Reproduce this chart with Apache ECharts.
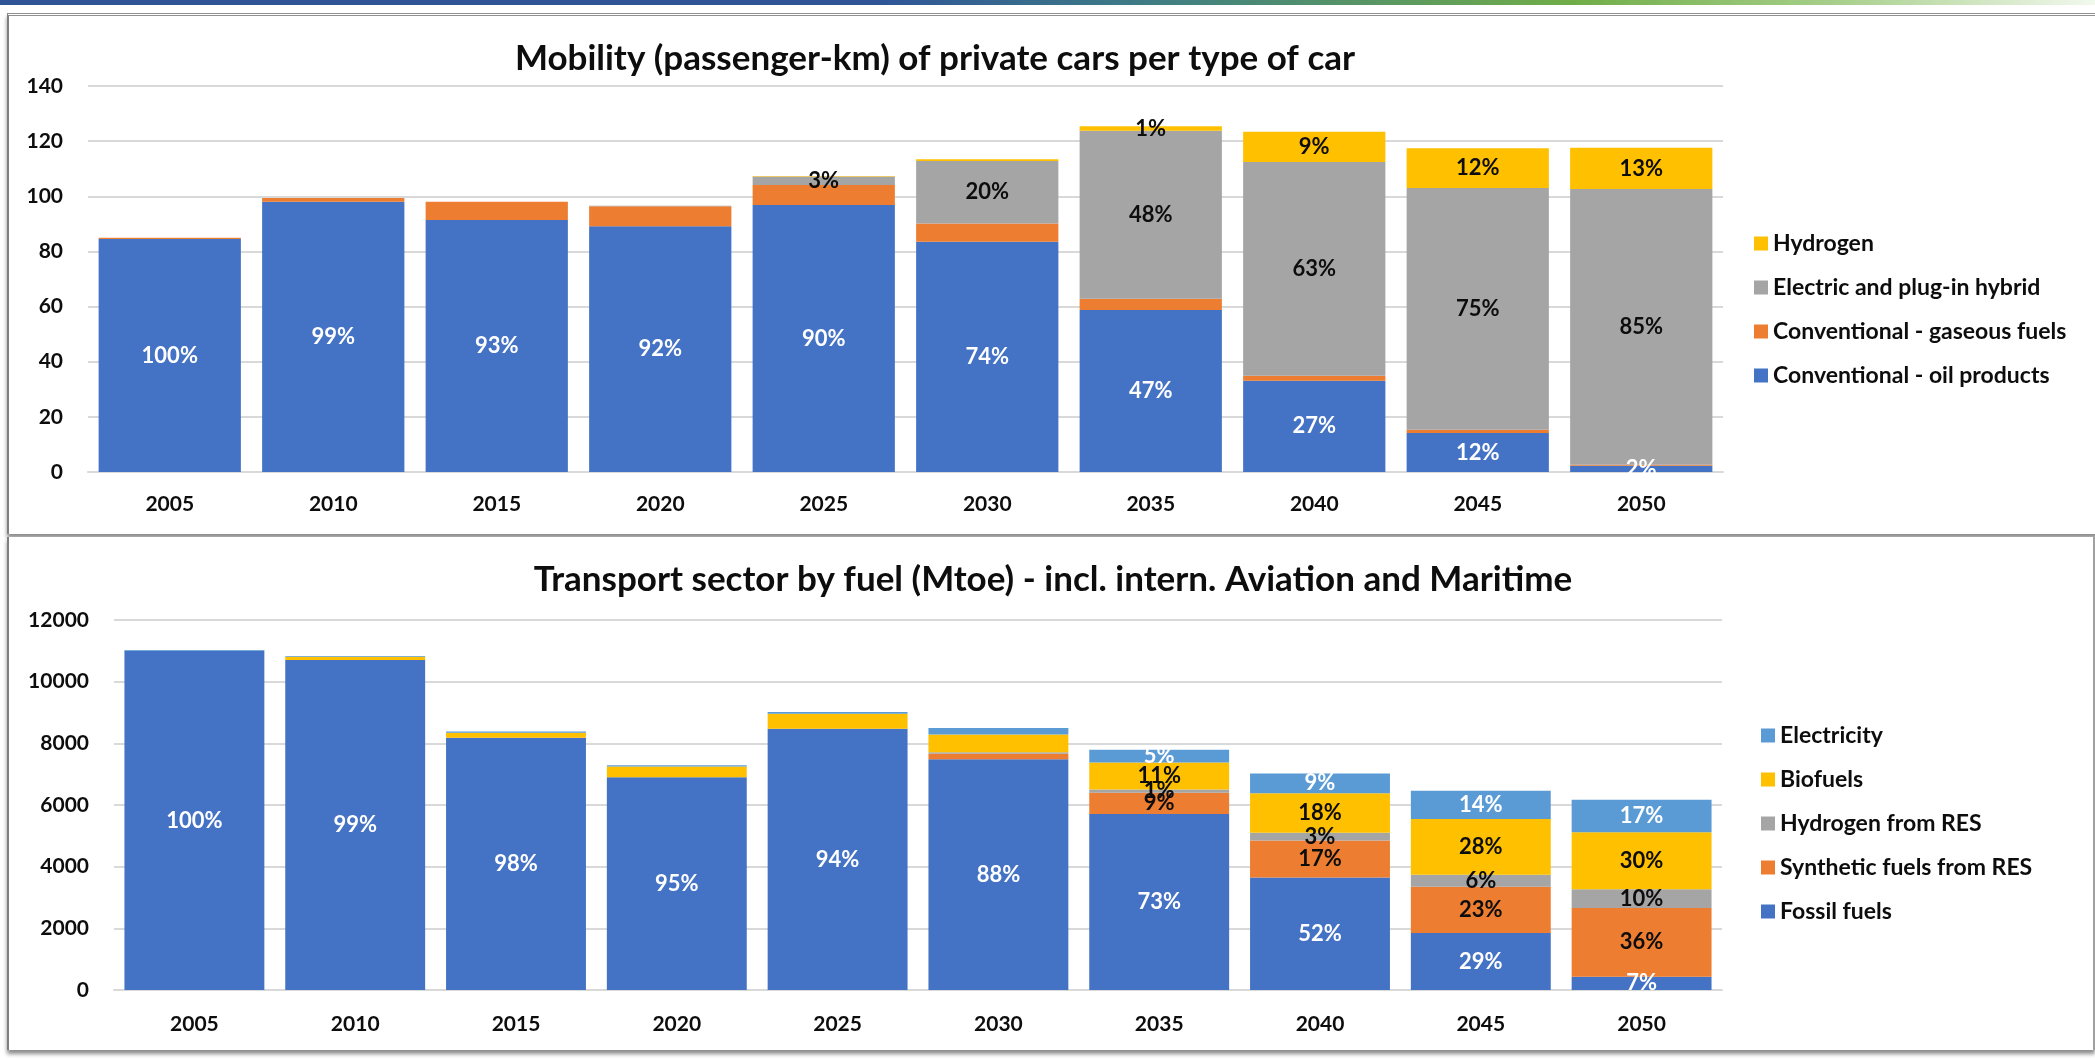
<!DOCTYPE html>
<html>
<head>
<meta charset="utf-8">
<script src="https://cdn.jsdelivr.net/npm/echarts@6/dist/echarts.min.js"></script>
<style>
  html, body { margin: 0; padding: 0; background: #fff; overflow: hidden; }
  #page { position: relative; width: 2095px; height: 1060px; overflow: hidden; }
  .band { position: absolute; left: 0; top: 0; width: 2095px; height: 5px;
    background: linear-gradient(to right, #2F5597 0%, #2F5597 42%, #3F7D84 55%, #70AD47 75%, #A9D08E 88%, #F2F8EE 100%); }
  .panel { position: absolute; background: #fff; box-shadow: 0 4px 4px rgba(0,0,0,0.45); }
  #p1 { left: 7px; top: 13px; width: 2110px; height: 518px; border-left: 2px solid #808080; border-top: 3px double #909090; }
  #p2 { left: 7px; top: 537px; width: 2084px; height: 513px; border-left: 2px solid #808080; border-right: 2px solid #A0A0A0; }
  #chart-container { position: absolute; left: 0; top: 0; width: 2095px; height: 1060px; }
</style>
</head>
<body>
<div id="page">
  <div class="band"></div>
  <div class="panel" id="p1"></div>
  <div class="panel" id="p2"></div>
  <div id="chart-container"></div>
</div>
<script>
var years = ['2005', '2010', '2015', '2020', '2025', '2030', '2035', '2040', '2045', '2050'];

// top chart: passenger-km of private cars
var oilProducts = [84.5, 98, 91.4, 89.1, 96.8, 83.5, 58.8, 33.1, 14.1, 2.3];
var gaseousFuels = [0.5, 1.4, 6.6, 7.3, 7.3, 6.6, 4.0, 1.8, 1.2, 0.3];
var electricHybrid = [0, 0, 0, 0.2, 3.1, 22.7, 61, 77.5, 87.7, 100];
var hydrogenCars = [0, 0, 0, 0, 0.2, 0.6, 1.6, 11, 14.4, 15];
// shares printed on the bars (null = no label)
var oilPct = [100, 99, 93, 92, 90, 74, 47, 27, 12, 2];
var electricPct = [null, null, null, null, 3, 20, 48, 63, 75, 85];
var hydrogenPct = [null, null, null, null, null, null, 1, 9, 12, 13];

// bottom chart: transport sector by fuel (Mtoe)
var fossilFuels = [11000, 10700, 8180, 6900, 8470, 7480, 5710, 3650, 1850, 430];
var syntheticFuels = [0, 0, 0, 0, 0, 180, 690, 1200, 1500, 2230];
var hydrogenRes = [0, 0, 0, 0, 0, 50, 100, 250, 390, 610];
var biofuels = [0, 110, 160, 350, 490, 580, 880, 1280, 1810, 1850];
var electricity = [30, 20, 40, 40, 60, 210, 410, 645, 910, 1050];
var fossilPct = [100, 99, 98, 95, 94, 88, 73, 52, 29, 7];
var syntheticPct = [null, null, null, null, null, null, 9, 17, 23, 36];
var hydrogenResPct = [null, null, null, null, null, null, 1, 3, 6, 10];
var biofuelsPct = [null, null, null, null, null, null, 11, 18, 28, 30];
var electricityPct = [null, null, null, null, null, null, 5, 9, 14, 17];

var FONT = 'Lato, "Open Sans", sans-serif';
var BLUE = '#4472C4', ORANGE = '#ED7D31', GREY = '#A5A5A5', YELLOW = '#FFC000', LIGHTBLUE = '#5B9BD5';

var dom = document.getElementById('chart-container');
var myChart = echarts.init(dom, null, { renderer: 'canvas' });

function pctLabel(pcts, color) {
  return {
    show: true,
    position: 'inside',
    color: color,
    fontFamily: FONT,
    fontWeight: 'bold',
    fontSize: 22,
    formatter: function (p) {
      var v = pcts ? pcts[p.dataIndex] : null;
      return v == null ? '' : v + '%';
    }
  };
}

function barSeries(name, data, color, grid, stack, pcts, labelColor) {
  return {
    name: name,
    type: 'bar',
    stack: stack,
    xAxisIndex: grid,
    yAxisIndex: grid,
    barCategoryGap: '13%',
    itemStyle: { color: color },
    label: pctLabel(pcts, labelColor),
    data: data
  };
}

function catAxis(grid, margin) {
  return {
    type: 'category',
    gridIndex: grid,
    data: years,
    axisTick: { show: false },
    axisLine: { lineStyle: { color: '#D9D9D9', width: 2 } },
    axisLabel: { color: '#0D0D0D', fontFamily: FONT, fontWeight: 'bold', fontSize: 21, margin: margin }
  };
}

function valAxis(grid, max, interval) {
  return {
    type: 'value',
    gridIndex: grid,
    min: 0,
    max: max,
    interval: interval,
    axisLine: { show: false },
    axisTick: { show: false },
    splitLine: { lineStyle: { color: '#D9D9D9', width: 2 } },
    axisLabel: {
      color: '#0D0D0D', fontFamily: FONT, fontWeight: 'bold', fontSize: 21, margin: 25,
      formatter: function (v) { return String(v); }
    }
  };
}

var titleStyle = { color: '#0D0D0D', fontFamily: FONT, fontWeight: 'bold', fontSize: 35, lineHeight: 40 };
var legendText = { color: '#0D0D0D', fontFamily: FONT, fontWeight: 'bold', fontSize: 23, lineHeight: 22 };

var option = {
  animation: false,
  title: [
    { text: 'Mobility (passenger-km) of private cars per type of car', left: 935, top: 39, textAlign: 'center', padding: 0, textStyle: titleStyle },
    { text: 'Transport sector by fuel (Mtoe) - incl. intern. Aviation and Maritime', left: 1053, top: 560, textAlign: 'center', padding: 0, textStyle: titleStyle }
  ],
  legend: [
    {
      data: ['Hydrogen', 'Electric and plug-in hybrid', 'Conventional - gaseous fuels', 'Conventional - oil products'],
      orient: 'vertical', left: 1754, top: 232, padding: 0,
      itemWidth: 14, itemHeight: 14, itemGap: 21, icon: 'rect',
      textStyle: legendText
    },
    {
      data: ['Electricity', 'Biofuels', 'Hydrogen from RES', 'Synthetic fuels from RES', 'Fossil fuels'],
      orient: 'vertical', left: 1761, top: 724, padding: 0,
      itemWidth: 14, itemHeight: 14, itemGap: 21, icon: 'rect',
      textStyle: legendText
    }
  ],
  grid: [
    { left: 88, right: 372, top: 86, bottom: 588 },
    { left: 114, right: 373, top: 620, bottom: 70 }
  ],
  xAxis: [catAxis(0, 22), catAxis(1, 24)],
  yAxis: [valAxis(0, 140, 20), valAxis(1, 12000, 2000)],
  series: [
    barSeries('Conventional - oil products', oilProducts, BLUE, 0, 'cars', oilPct, '#FFFFFF'),
    barSeries('Conventional - gaseous fuels', gaseousFuels, ORANGE, 0, 'cars', null, '#000'),
    barSeries('Electric and plug-in hybrid', electricHybrid, GREY, 0, 'cars', electricPct, '#0D0D0D'),
    barSeries('Hydrogen', hydrogenCars, YELLOW, 0, 'cars', hydrogenPct, '#0D0D0D'),

    barSeries('Fossil fuels', fossilFuels, BLUE, 1, 'fuel', fossilPct, '#FFFFFF'),
    barSeries('Synthetic fuels from RES', syntheticFuels, ORANGE, 1, 'fuel', syntheticPct, '#0D0D0D'),
    barSeries('Hydrogen from RES', hydrogenRes, GREY, 1, 'fuel', hydrogenResPct, '#0D0D0D'),
    barSeries('Biofuels', biofuels, YELLOW, 1, 'fuel', biofuelsPct, '#0D0D0D'),
    barSeries('Electricity', electricity, LIGHTBLUE, 1, 'fuel', electricityPct, '#FFFFFF')
  ]
};

myChart.setOption(option);
window.addEventListener('resize', myChart.resize);
</script>
</body>
</html>
